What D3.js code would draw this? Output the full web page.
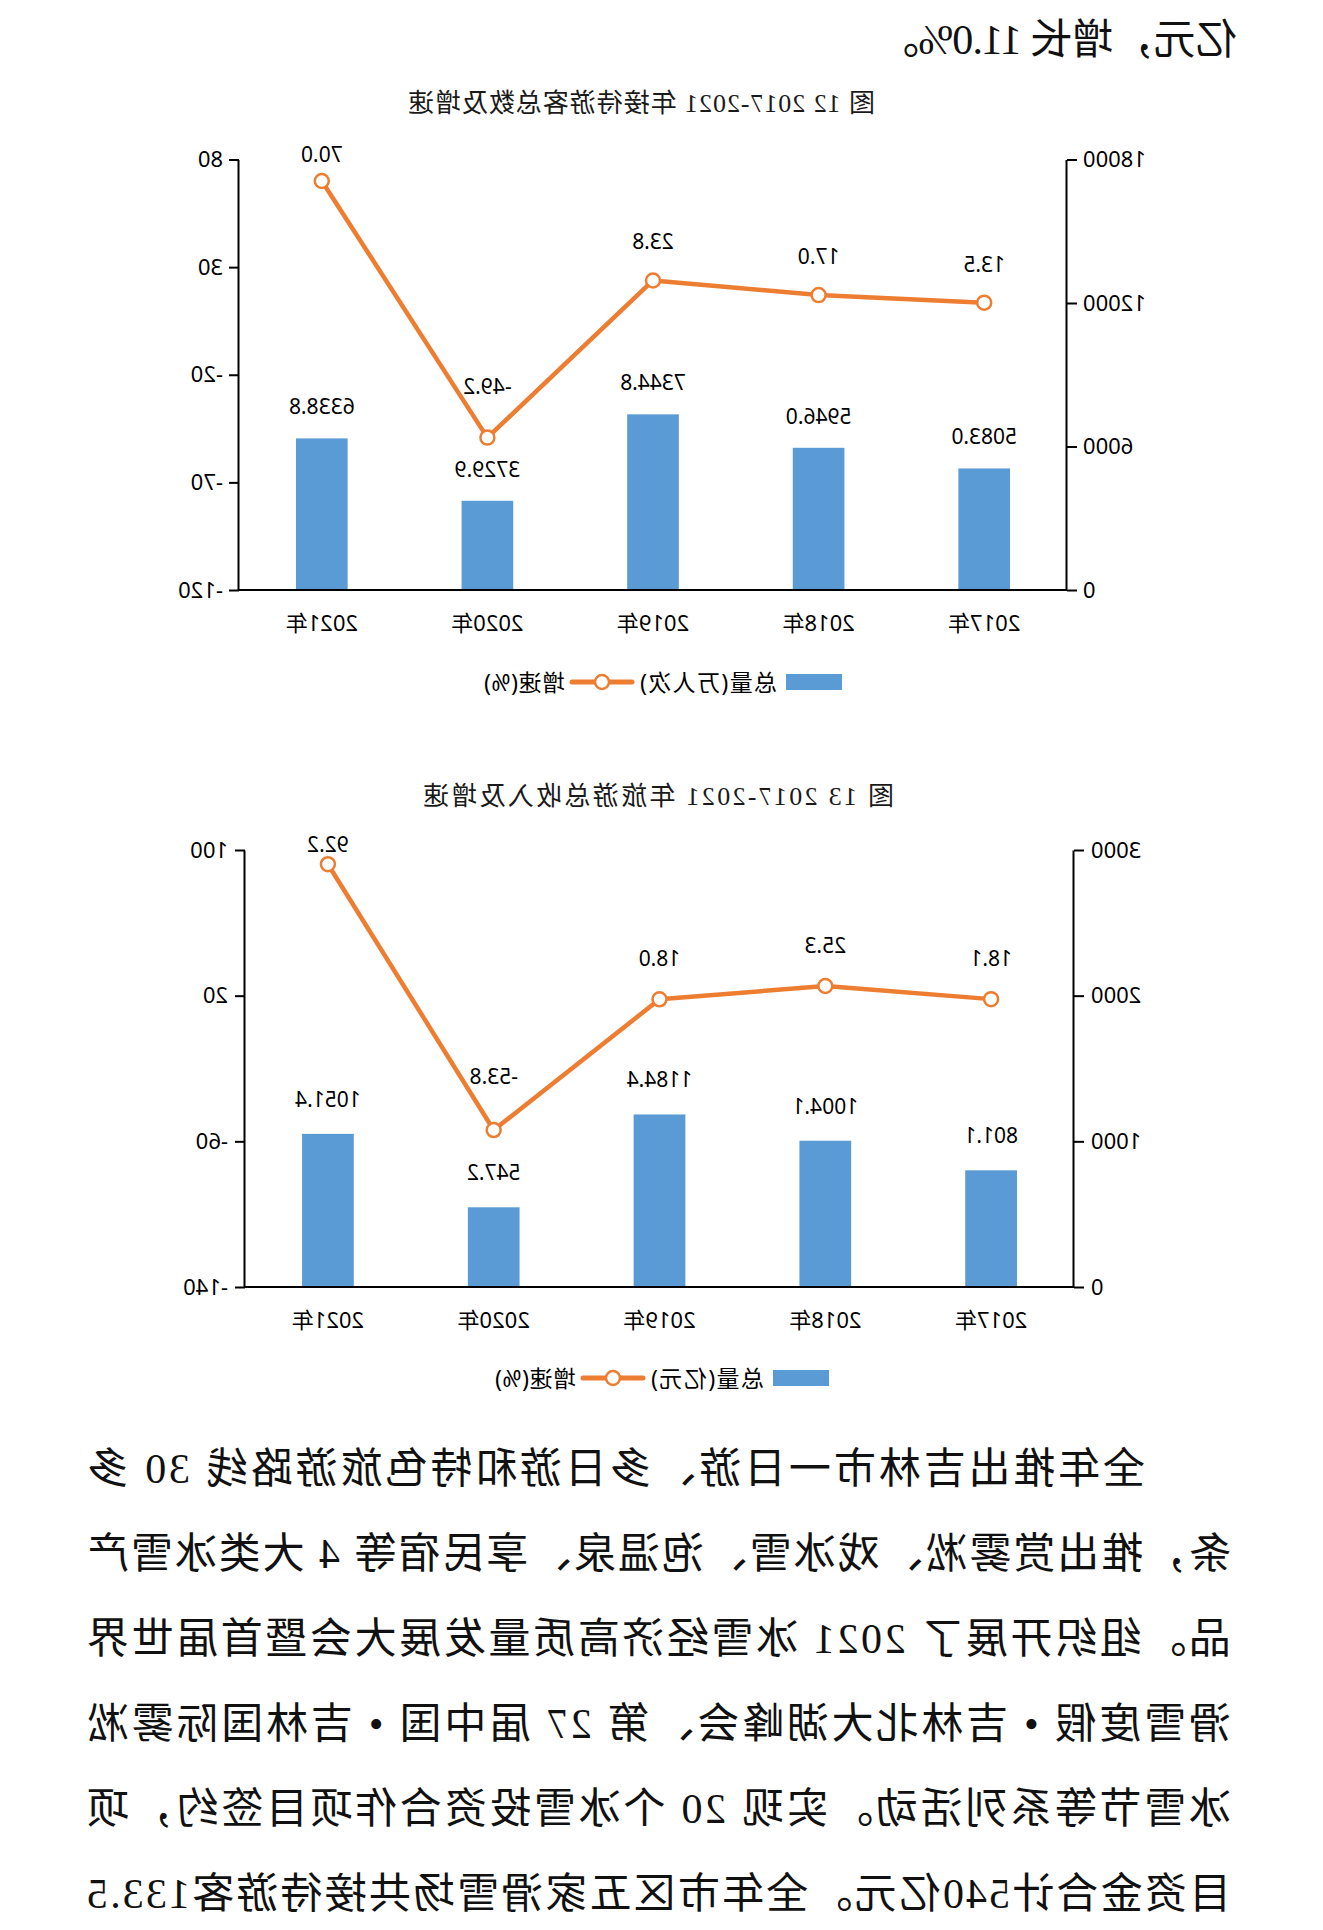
<!DOCTYPE html>
<html>
<head>
<meta charset="utf-8">
<script src="https://cdn.jsdelivr.net/npm/d3@7"></script>
<style>
  html, body { margin: 0; padding: 0; background: #fff; }
  /* the source page is a mirror image, so the whole sheet is flipped */
  #page { display: block; transform: scaleX(-1); transform-origin: center; }
</style>
</head>
<body>
<svg id="page"></svg>
<script>
"use strict";

const years = ["2017年", "2018年", "2019年", "2020年", "2021年"];

// 图12: visitors (万人次) and growth (%)
const visitorTotals = [5083.0, 5946.0, 7344.8, 3729.9, 6338.8];
const visitorGrowth = [13.5, 17.0, 23.8, -49.2, 70.0];
const visitorTotalTicks = [0, 6000, 12000, 18000];
const visitorGrowthTicks = [-120, -70, -20, 30, 80];

// 图13: income (亿元) and growth (%)
const incomeTotals = [801.1, 1004.1, 1184.4, 547.2, 1051.4];
const incomeGrowth = [18.1, 25.3, 18.0, -53.8, 92.2];
const incomeTotalTicks = [0, 1000, 2000, 3000];
const incomeGrowthTicks = [-140, -60, 20, 100];

const topLine = "亿元，增长 11.0%。";
const bodyLines = [
  "全年推出吉林市一日游、多日游和特色旅游路线 30 多",
  "条，推出赏雾凇、戏冰雪、泡温泉、享民宿等 4 大类冰雪产",
  "品。组织开展了 2021 冰雪经济高质量发展大会暨首届世界",
  "滑雪度假 • 吉林北大湖峰会、第 27 届中国 • 吉林国际雾凇",
  "冰雪节等系列活动。实现 20 个冰雪投资合作项目签约，项",
  "目资金合计540亿元。全年市区五家滑雪场共接待游客133.5"
];

const W = 1323, H = 1930;
const BLUE = "#5b9bd5", ORANGE = "#ed7d31";
const SANS = "'Noto Sans', 'Noto Sans CJK SC', sans-serif";
const SERIF = "'Liberation Serif', 'Noto Sans CJK SC', serif";

const svg = d3.select("#page").attr("width", W).attr("height", H);

// running text above and below the charts
svg.append("text")
  .attr("x", 86).attr("y", 53.5)
  .attr("textLength", 360).attr("lengthAdjust", "spacing")
  .style("font-family", SERIF).style("font-size", "42px").attr("fill", "#111")
  .text(topLine);

bodyLines.forEach((line, i) => {
  const indent = i === 0 ? 86 : 0;
  svg.append("text")
    .attr("x", 92 + indent).attr("y", 1483 + i * 85)
    .attr("textLength", 1144 - indent).attr("lengthAdjust", "spacing")
    .style("font-family", SERIF).style("font-size", "42px").attr("fill", "#111")
    .text(line);
});

function drawChart(opts) {
  const { totals, growth, totalTicks, growthTicks, box, title, unit } = opts;
  const g = svg.append("g").style("font-family", SANS).attr("fill", "#000");

  const x = d3.scaleBand().domain(years)
    .range([box.left, box.right]).paddingInner(0.688).paddingOuter(0.344);
  const yBar = d3.scaleLinear().domain(d3.extent(totalTicks)).range([box.bottom, box.top]);
  const yPct = d3.scaleLinear().domain(d3.extent(growthTicks)).range([box.bottom, box.top]);
  const cx = (d) => x(d) + x.bandwidth() / 2;

  g.append("text")
    .attr("x", opts.titleX).attr("y", opts.titleY)
    .attr("textLength", opts.titleWidth).attr("lengthAdjust", "spacing")
    .style("font-family", SERIF).style("font-size", "26px").attr("fill", "#1a1a1a")
    .text(title);

  // bars
  g.selectAll("rect.bar").data(years).join("rect")
    .attr("class", "bar")
    .attr("x", (d) => x(d))
    .attr("width", x.bandwidth())
    .attr("y", (d, i) => yBar(totals[i]))
    .attr("height", (d, i) => box.bottom - yBar(totals[i]))
    .attr("fill", BLUE);

  g.selectAll("text.bar-label").data(years).join("text")
    .attr("class", "bar-label")
    .attr("x", cx)
    .attr("y", (d, i) => yBar(totals[i]) - opts.barLabelGap)
    .attr("text-anchor", "middle")
    .style("font-size", "21px")
    .text((d, i) => totals[i].toFixed(1));

  // axes
  const barAxis = g.append("g")
    .attr("transform", `translate(${box.left},0)`)
    .call(d3.axisLeft(yBar).tickValues(totalTicks).tickSize(10).tickSizeOuter(0)
      .tickPadding(opts.tickPad).tickFormat((d) => String(d)));
  const pctAxis = g.append("g")
    .attr("transform", `translate(${box.right},0)`)
    .call(d3.axisRight(yPct).tickValues(growthTicks).tickSize(10).tickSizeOuter(0)
      .tickPadding(opts.tickPad).tickFormat((d) => String(d)));
  [barAxis, pctAxis].forEach((a) => {
    a.select(".domain").attr("stroke", "#000").attr("stroke-width", 2);
    a.selectAll(".tick line").attr("stroke", "#000").attr("stroke-width", 2);
    a.selectAll(".tick text").style("font-family", SANS).style("font-size", "22px").attr("fill", "#000");
  });

  g.append("line")
    .attr("x1", box.left).attr("x2", box.right)
    .attr("y1", box.bottom).attr("y2", box.bottom)
    .attr("stroke", "#000").attr("stroke-width", 2);

  g.selectAll("text.cat").data(years).join("text")
    .attr("class", "cat")
    .attr("x", cx).attr("y", box.bottom + 41)
    .attr("text-anchor", "middle")
    .style("font-size", "22px")
    .text((d) => d);

  // growth line
  const line = d3.line().x((d) => cx(d)).y((d, i) => yPct(growth[i]));
  g.append("path")
    .attr("d", line(years))
    .attr("fill", "none").attr("stroke", ORANGE)
    .attr("stroke-width", 4.5).attr("stroke-linejoin", "round");

  g.selectAll("circle.pt").data(years).join("circle")
    .attr("class", "pt")
    .attr("cx", cx).attr("cy", (d, i) => yPct(growth[i])).attr("r", 7)
    .attr("fill", "#fff").attr("stroke", ORANGE).attr("stroke-width", 2.5);

  // labels sit above the points; a dip between two higher points goes a bit higher,
  // and the top one is held inside the plot
  g.selectAll("text.pt-label").data(years).join("text")
    .attr("class", "pt-label")
    .attr("x", cx)
    .attr("y", (d, i) => {
      const v = growth[i];
      const dip = i > 0 && i < growth.length - 1 && v < growth[i - 1] && v < growth[i + 1];
      const y = yPct(v) - opts.ptLabelGap - (dip ? 13 : 0);
      return Math.max(y, box.top + 2);
    })
    .attr("text-anchor", "middle")
    .style("font-size", "21px")
    .text((d, i) => growth[i].toFixed(1));

  // legend
  const lg = g.append("g").attr("transform", `translate(${opts.legendX},${opts.legendY})`);
  lg.append("rect").attr("x", 0).attr("y", -8).attr("width", 56).attr("height", 16).attr("fill", BLUE);
  lg.append("text").attr("x", 65).attr("y", 9)
    .attr("textLength", opts.unitWidth).attr("lengthAdjust", "spacing")
    .style("font-size", "23px").text(`总量(${unit})`);
  const lx = 65 + opts.unitWidth + 8;
  lg.append("line").attr("x1", lx).attr("x2", lx + 60).attr("y1", 0).attr("y2", 0)
    .attr("stroke", ORANGE).attr("stroke-width", 5).attr("stroke-linecap", "round");
  lg.append("circle").attr("cx", lx + 30).attr("cy", 0).attr("r", 7)
    .attr("fill", "#fff").attr("stroke", ORANGE).attr("stroke-width", 2.5);
  lg.append("text").attr("x", lx + 67).attr("y", 9)
    .attr("textLength", 81).attr("lengthAdjust", "spacing")
    .style("font-size", "23px").text("增速(%)");
}

drawChart({
  totals: visitorTotals,
  growth: visitorGrowth,
  totalTicks: visitorTotalTicks,
  growthTicks: visitorGrowthTicks,
  box: { left: 256, right: 1084, top: 159.5, bottom: 590 },
  title: "图 12 2017-2021 年接待游客总数及增速",
  titleX: 448, titleY: 111.5, titleWidth: 467,
  unit: "万人次", unitWidth: 137,
  legendX: 481, legendY: 682,
  tickPad: 6, barLabelGap: 24, ptLabelGap: 31
});

drawChart({
  totals: incomeTotals,
  growth: incomeGrowth,
  totalTicks: incomeTotalTicks,
  growthTicks: incomeGrowthTicks,
  box: { left: 249, right: 1078, top: 850, bottom: 1287 },
  title: "图 13 2017-2021 年旅游总收入及增速",
  titleX: 429, titleY: 805, titleWidth: 471,
  unit: "亿元", unitWidth: 113,
  legendX: 494, legendY: 1378,
  tickPad: 7, barLabelGap: 27, ptLabelGap: 33
});
</script>
</body>
</html>
